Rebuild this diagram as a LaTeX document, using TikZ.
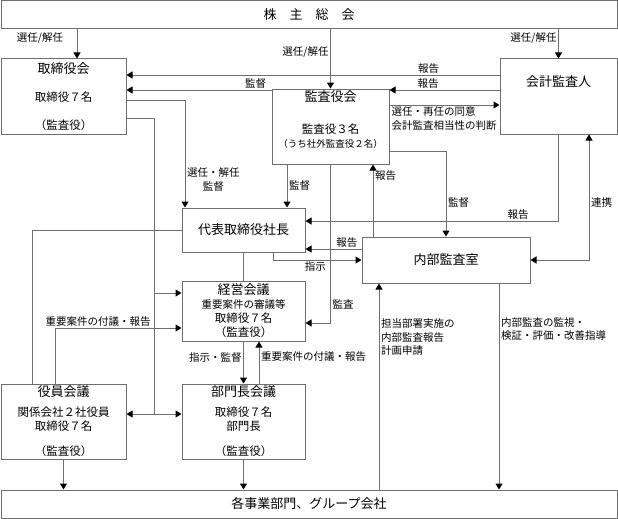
\documentclass[tikz,border=0pt]{standalone}
\usepackage{fontspec}
\setmainfont{Noto Sans CJK JP}
\usepackage{tikz}
\usetikzlibrary{arrows.meta,positioning}

\definecolor{linegray}{RGB}{110,110,110}
\newcommand{\boxtitle}{\fontsize{13}{15}\selectfont}
\newcommand{\boxsmall}{\fontsize{10.5}{14}\selectfont}

\tikzset{
	box/.style={draw=linegray, line width=1pt, inner sep=0pt, align=center, font=\fontsize{11.5}{14}\selectfont},
	lbl/.style={font=\fontsize{10.5}{13.5}\selectfont, inner sep=1.5pt},
	con/.style={draw=linegray, line width=1pt},
	arr/.style={con, -{Triangle[length=6pt, width=7pt, color=black]}},
	darr/.style={con, {Triangle[length=6pt, width=7pt, color=black]}-{Triangle[length=6pt, width=7pt, color=black]}}
}

\begin{document}
\begin{tikzpicture}[x=1pt, y=-1pt]
	\useasboundingbox (0,0) rectangle (618,519);

	\draw (309,15) node [box, minimum width=616pt, minimum height=28pt] (share) {\boxtitle 株　主　総　会};
	\draw (63.5,96.5) node [box, minimum width=125pt, minimum height=75pt] (board) {{\boxtitle 取締役会}\\[14pt]取締役７名\\[14pt]（監査役）};
	\draw (330.5,126.5) node [box, minimum width=117pt, minimum height=75pt] (kansa) {{\boxtitle 監査役会}\\[18pt]監査役３名\\{\fontsize{9.5}{14}\selectfont （うち社外監査役２名）}\\[1pt]\mbox{}};
	\draw (558.5,96.5) node [box, minimum width=117pt, minimum height=75pt] (kaikei) {{\boxtitle 会計監査人}\\[16pt]\mbox{}};
	\draw (243.5,230) node [box, minimum width=123pt, minimum height=44pt] (president) {\boxtitle 代表取締役社長};
	\draw (446,260) node [box, minimum width=168pt, minimum height=46pt] (naibu) {\boxtitle 内部監査室};
	\draw (243.5,311) node [box, minimum width=123pt, minimum height=60pt] (keiei) {{\boxtitle 経営会議}\\{\boxsmall 重要案件の審議等}\\取締役７名\\（監査役）};
	\draw (63.5,421.5) node [box, minimum width=125pt, minimum height=75pt] (yakuin) {{\boxtitle 役員会議}\\[6pt]関係会社２社役員\\取締役７名\\[11pt]（監査役）};
	\draw (243.5,421.5) node [box, minimum width=123pt, minimum height=75pt] (bumon) {{\boxtitle 部門長会議}\\[6pt]取締役７名\\部門長\\[11pt]（監査役）};
	\draw (309,504) node [box, minimum width=616pt, minimum height=28pt] (jigyo) {\boxtitle 各事業部門、グループ会社};

	\coordinate (jct) at (154,414);
	\coordinate (kin) at ([yshift=18pt]keiei.west);
	\coordinate (nb1) at ([xshift=-67pt]naibu.south);
	\coordinate (nb2) at ([xshift=53pt]naibu.south);

	\draw[arr] ([xshift=-232pt]share.south) -- node[lbl, left=12pt, pos=.3] (l1) {選任/解任} ([xshift=13.5pt]board.north);
	\draw[arr] (share.south -| kansa.north) -- node[lbl, left, pos=.38] (l2) {選任/解任} (kansa.north);
	\draw[arr] (share.south -| kaikei.north) -- node[lbl, left, pos=.3] (l3) {選任/解任} (kaikei.north);
	\draw[arr] ([yshift=21.5pt]kaikei.west) -- node[lbl, above, pos=.19] (l4) {報告} ([yshift=21.5pt]board.east);
	\draw[arr] ([yshift=6.5pt]kaikei.west) -- node[lbl, above, pos=.65] (l5) {報告} ([yshift=36.5pt]kansa.east);
	\draw[arr] ([yshift=21.5pt]kansa.east) -- node[lbl, below right, align=left, pos=0] (l6) {選任・再任の同意\\会計監査相当性の判断} ([yshift=-8.5pt]kaikei.west);
	\draw[arr] ([yshift=36.5pt]kansa.west) -- node[lbl, above, pos=.11] (l7) {監督} ([yshift=6.5pt]board.east);
	\draw[arr] ([yshift=-3.5pt]board.east) -| node[lbl, right, align=center, pos=.87] (l8) {選任・解任\\監督} ([xshift=-58.5pt]president.north);
	\draw[con] ([yshift=-21.5pt]board.east) -| (jct);
	\draw[arr] (jct) -- ([yshift=7.5pt]yakuin.east);
	\draw[arr] (jct) -- ([yshift=7.5pt]bumon.west);
	\draw[arr] (jct |- kin) -- (kin);
	\draw[arr] ([xshift=-43.5pt]kansa.south) -- node[lbl, right, pos=.5] (l10) {監督} ([xshift=43.5pt]president.north);
	\draw[arr] (kansa.south) |- node[lbl, right, pos=.44] (l11) {監査} ([yshift=-12pt]keiei.east);
	\draw[arr] ([xshift=-73pt]naibu.north) -- node[lbl, right, pos=.85] (l12) {報告} ([xshift=42.5pt]kansa.south);
	\draw[arr] ([yshift=-24.5pt]kansa.east) -| node[lbl, right, pos=.8] (l13) {監督} (naibu.north);
	\draw[arr] (kaikei.south) |- node[lbl, above, pos=.58] (l14) {報告} ([yshift=9pt]president.east);
	\draw[darr] ([xshift=30.5pt]kaikei.south) |- node[lbl, right, pos=.27] (l15) {連携} (naibu.east);
	\draw[arr] ([yshift=11pt]naibu.west) -- node[lbl, above, pos=.26] (l16) {報告} ([yshift=-19pt]president.east);
	\draw[arr] ([xshift=29.5pt]president.south) |- node[lbl, below, pos=.74] (l17) {指示} (naibu.west);
	\draw[con] (president.south) -- (keiei.north);
	\draw[arr] (keiei.south) -- node[lbl, left, pos=.37] (l19) {指示・監督} (bumon.north);
	\draw[arr] ([xshift=15.5pt]bumon.north) -- node[lbl, right, pos=.63] (l20) {重要案件の付議・報告} ([xshift=15.5pt]keiei.south);
	\draw[con] (president.west) -| ([xshift=-31.5pt]yakuin.north);
	\draw[arr] ([xshift=-8.5pt]yakuin.north) |- node[lbl, above, pos=.67] (l22) {重要案件の付議・報告} ([yshift=-17pt]keiei.west);
	\draw[arr] (yakuin.south) -- (yakuin.south |- jigyo.north);
	\draw[arr] (bumon.south) -- (bumon.south |- jigyo.north);
	\draw[arr] (nb1 |- jigyo.north) -- node[lbl, right, align=left, pos=.74] (l25) {担当部署実施の\\内部監査報告\\計画申請} (nb1);
	\draw[arr] (nb2) -- node[lbl, right, align=left, pos=.22] (l26) {内部監査の監視・\\検証・評価・改善指導} (nb2 |- jigyo.north);
\end{tikzpicture}
\end{document}
